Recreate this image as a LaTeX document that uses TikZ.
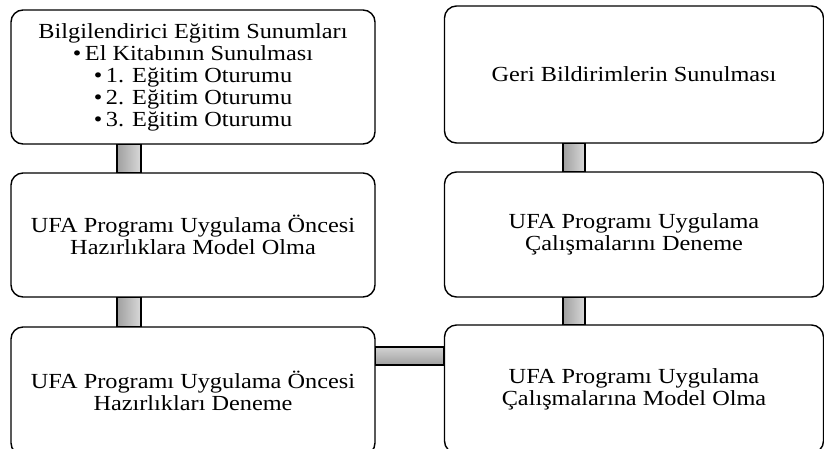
\documentclass[tikz,border=0pt]{standalone}
\usepackage{fontspec}
\setmainfont{Liberation Serif}[FakeStretch=1.13]
\usetikzlibrary{shapes,arrows}
\tikzstyle{block} = [rectangle, draw, line width=1.4pt, rounded corners=12pt,
    align=center, font=\fontsize{21.5}{22}\selectfont, fill=white]
\tikzstyle{leftblock} = [block, minimum width=364pt]
\tikzstyle{rightblock} = [block, minimum width=379pt]
\tikzstyle{vbar} = [draw, line width=1.2pt, left color=gray!75, right color=gray!30]
\tikzstyle{hbar} = [draw, line width=1.2pt, top color=gray!35, bottom color=gray!75]

\begin{document}
\begin{tikzpicture}[x=1pt, y=-1pt]
        \useasboundingbox (0,0) rectangle (824,448);

        % Place nodes
        \node [leftblock, minimum height=134pt] at (193,77) (egitim)
            {Bilgilendirici Eğitim Sunumları\\
             \textbullet\,El Kitabının Sunulması\\
             \textbullet\,1. Eğitim Oturumu\\
             \textbullet\,2. Eğitim Oturumu\\
             \textbullet\,3. Eğitim Oturumu};
        \node [leftblock, minimum height=124pt, below of=egitim, node distance=158pt] (oncemodel)
            {UFA Programı Uygulama Öncesi\\ Hazırlıklara Model Olma};
        \node [leftblock, minimum height=128pt, below of=oncemodel, node distance=156pt] (oncedeneme)
            {UFA Programı Uygulama Öncesi\\ Hazırlıkları Deneme};
        \node [rightblock, minimum height=137pt] at (634,74.5) (geribildirim)
            {Geri Bildirimlerin Sunulması};
        \node [rightblock, minimum height=125pt, below of=geribildirim, node distance=160pt] (calisdeneme)
            {UFA Programı Uygulama\\ Çalışmalarını Deneme};
        \node [rightblock, minimum height=128pt, below of=calisdeneme, node distance=154.5pt] (calismodel)
            {UFA Programı Uygulama\\ Çalışmalarına Model Olma};

        % Draw edges
        \path [vbar] ([xshift=-76pt]egitim.south) rectangle ([xshift=-52pt]oncemodel.north);
        \path [vbar] ([xshift=-76pt]oncemodel.south) rectangle ([xshift=-52pt]oncedeneme.north);
        \path [hbar] ([yshift=44pt]oncedeneme.east) rectangle ([yshift=24pt]calismodel.west);
        \path [vbar] ([xshift=-71pt]calismodel.north) rectangle ([xshift=-49pt]calisdeneme.south);
        \path [vbar] ([xshift=-71pt]calisdeneme.north) rectangle ([xshift=-49pt]geribildirim.south);
    \end{tikzpicture}
\end{document}
